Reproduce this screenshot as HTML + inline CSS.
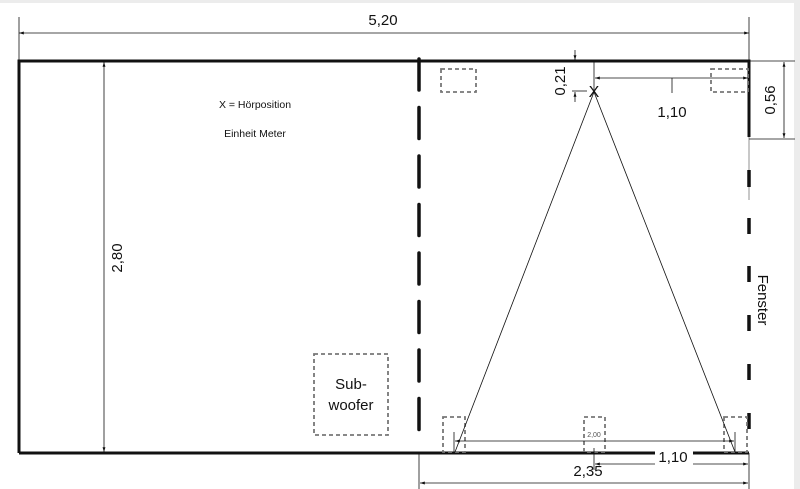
<!DOCTYPE html>
<html><head><meta charset="utf-8"><style>
html,body{margin:0;padding:0;background:#fff;}
svg{display:block;font-family:"Liberation Sans",sans-serif;}
</style></head><body>
<svg width="800" height="489" viewBox="0 0 800 489" xmlns="http://www.w3.org/2000/svg">
<rect x="0" y="0" width="800" height="489" fill="#fff"/>
<rect x="0" y="0" width="800" height="3" fill="#ececec"/>
<rect x="794" y="0" width="6" height="489" fill="#ececec"/>
<defs>
<marker id="a" viewBox="0 0 10 10" refX="10" refY="5" markerWidth="6" markerHeight="6" orient="auto-start-reverse"><path d="M0,2 L10,5 L0,8 z" fill="#111"/></marker>
</defs>
<g stroke="#111" fill="none">
<!-- walls -->
<path d="M19,453 L19,61 L749,61 L749,137" stroke-width="3"/>
<line x1="19" y1="453" x2="749" y2="453" stroke-width="3"/>
<line x1="749" y1="137" x2="749" y2="200" stroke-width="0.8" stroke="#777"/>
<g stroke-width="3.5">
<line x1="749" y1="170" x2="749" y2="187"/>
<line x1="749" y1="218" x2="749" y2="234"/>
<line x1="749" y1="266" x2="749" y2="282"/>
<line x1="749" y1="315" x2="749" y2="331"/>
<line x1="749" y1="364" x2="749" y2="380"/>
<line x1="749" y1="413" x2="749" y2="429"/>
</g>
<line x1="419" y1="59" x2="419" y2="432" stroke-width="3.5" stroke-dasharray="31 17.5" stroke-linecap="round"/>
<!-- speakers -->
<g stroke="#777" stroke-width="1.8" stroke-dasharray="4 3">
<rect x="441" y="69" width="35" height="23"/>
<rect x="711" y="69" width="37" height="23"/>
<rect x="443" y="417" width="22" height="35"/>
<rect x="584" y="417" width="21" height="35"/>
<rect x="724" y="417" width="23" height="35"/>
<rect x="314" y="354" width="74" height="81"/>
</g>
<!-- triangle -->
<g stroke-width="0.8">
<line x1="594" y1="92" x2="455" y2="452"/>
<line x1="594" y1="92" x2="735" y2="452"/>
</g>
<!-- dims -->
<g stroke-width="0.8">
<line x1="19" y1="17" x2="19" y2="61"/>
<line x1="749" y1="17" x2="749" y2="61"/>
<line x1="19" y1="33" x2="749" y2="33" marker-start="url(#a)" marker-end="url(#a)"/>
<line x1="104" y1="62" x2="104" y2="452" marker-start="url(#a)" marker-end="url(#a)"/>
<line x1="749" y1="61" x2="795" y2="61"/>
<line x1="749" y1="139" x2="795" y2="139"/>
<line x1="784" y1="62" x2="784" y2="138" marker-start="url(#a)" marker-end="url(#a)"/>
<line x1="594" y1="61" x2="594" y2="90"/>
<line x1="595" y1="78" x2="748" y2="78" marker-start="url(#a)" marker-end="url(#a)"/>
<line x1="672" y1="78" x2="672" y2="93"/>
<line x1="575" y1="50" x2="575" y2="60" marker-end="url(#a)"/>
<line x1="575" y1="102" x2="575" y2="92" marker-end="url(#a)"/>
<line x1="572" y1="91" x2="587" y2="91"/>
<line x1="454" y1="432" x2="454" y2="452"/>
<line x1="735" y1="432" x2="735" y2="452"/>
<line x1="455" y1="441" x2="734" y2="441" marker-start="url(#a)" marker-end="url(#a)"/>
<line x1="594" y1="448" x2="594" y2="470"/>
<line x1="595" y1="464" x2="748" y2="464" marker-start="url(#a)" marker-end="url(#a)"/>
<line x1="419" y1="453" x2="419" y2="489"/>
<line x1="749" y1="453" x2="749" y2="489"/>
<line x1="420" y1="483" x2="748" y2="483" marker-start="url(#a)" marker-end="url(#a)"/>
</g>
</g>
<g fill="#111">
<text x="383" y="25" font-size="15" text-anchor="middle">5,20</text>
<text x="0" y="0" font-size="15" text-anchor="middle" transform="translate(122,258) rotate(-90)">2,80</text>
<text x="0" y="0" font-size="15" text-anchor="middle" transform="translate(775,100) rotate(-90)">0,56</text>
<text x="0" y="0" font-size="15" text-anchor="middle" transform="translate(565,81) rotate(-90)">0,21</text>
<text x="672" y="117" font-size="15" text-anchor="middle">1,10</text>
<text x="594" y="97" font-size="16" text-anchor="middle">X</text>
<text x="255" y="108" font-size="10.5" text-anchor="middle">X = Hörposition</text>
<text x="255" y="137" font-size="10.5" text-anchor="middle">Einheit Meter</text>
<text x="351" y="389" font-size="15" text-anchor="middle">Sub-</text>
<text x="351" y="410" font-size="15" text-anchor="middle">woofer</text>
<text x="594" y="437" font-size="7" text-anchor="middle" fill="#555">2,00</text>
<rect x="655" y="451" width="38" height="16" fill="#fff"/>
<text x="673" y="462" font-size="15" text-anchor="middle">1,10</text>
<text x="588" y="476" font-size="15" text-anchor="middle">2,35</text>
<text x="0" y="0" font-size="15" text-anchor="middle" transform="translate(758,300) rotate(90)">Fenster</text>
</g>
</svg>
</body></html>
